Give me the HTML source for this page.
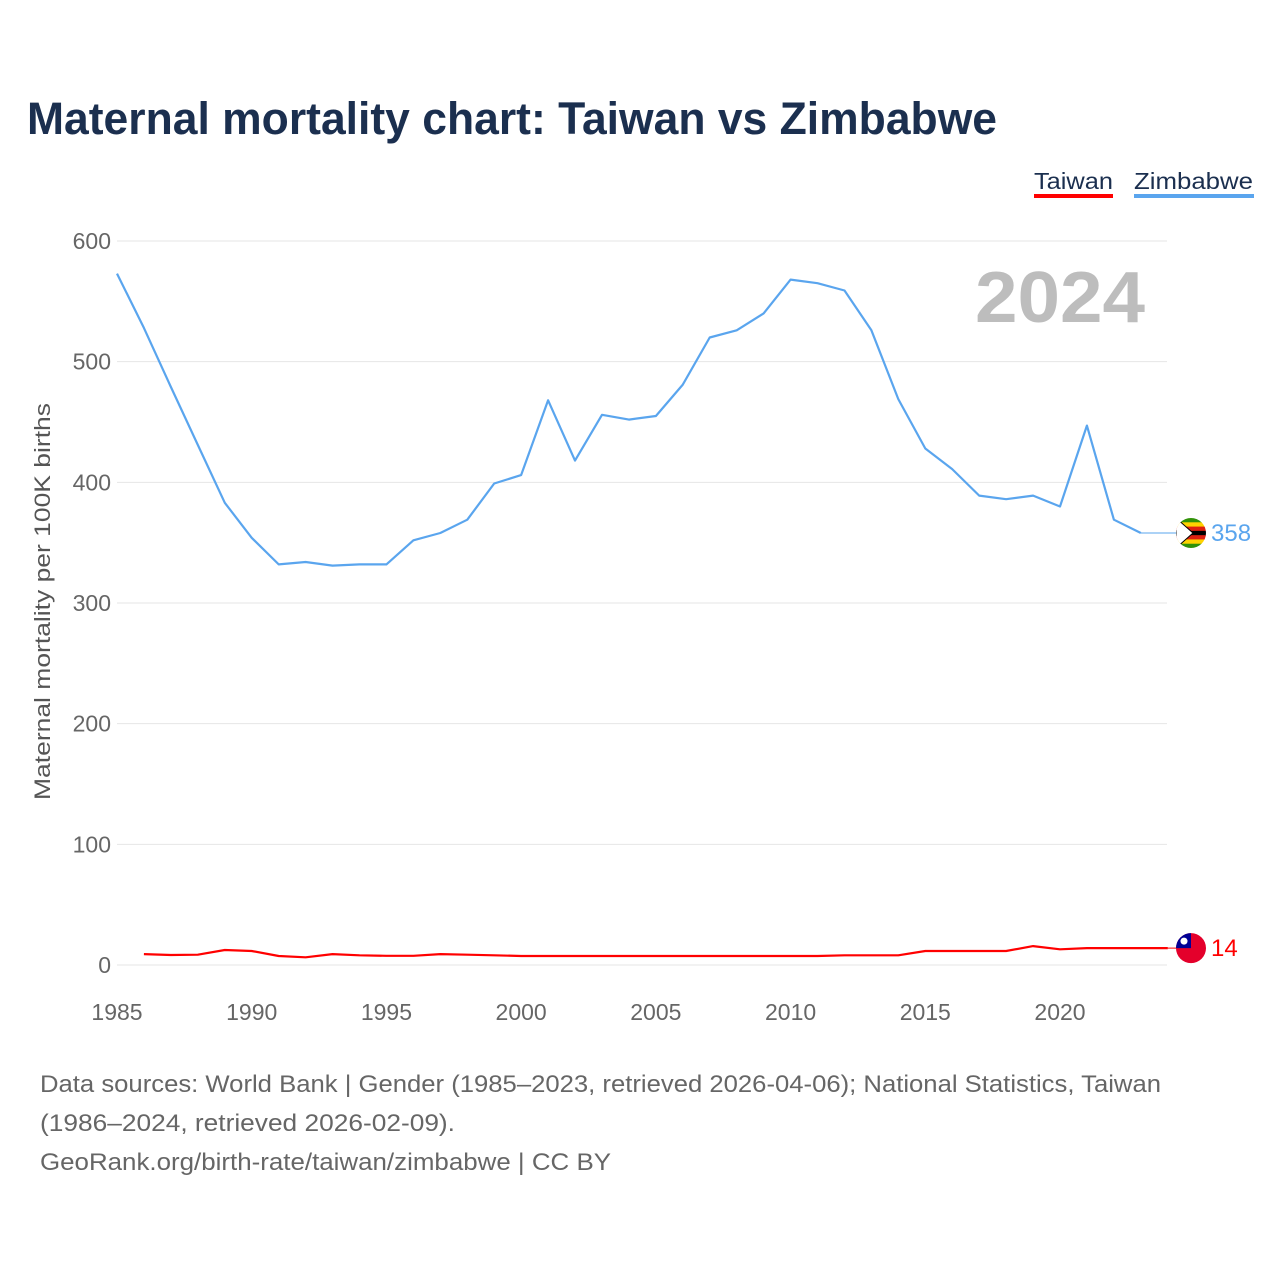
<!DOCTYPE html>
<html><head><meta charset="utf-8"><style>
body{margin:0;background:#fff;font-family:"Liberation Sans",sans-serif}
#wrap{position:relative;width:1280px;height:1280px}
</style></head><body>
<div id="wrap">
<svg id="chart" width="1280" height="1280">
<text x="27" y="134" font-size="45" font-weight="bold" fill="#1b2f4f" textLength="970" lengthAdjust="spacingAndGlyphs">Maternal mortality chart: Taiwan vs Zimbabwe</text>
<g><text x="1034" y="189" font-size="23" fill="#1b2f4f" textLength="79" lengthAdjust="spacingAndGlyphs">Taiwan</text><rect x="1034" y="194" width="79" height="4" fill="#ff0000"/></g>
<g><text x="1134" y="189" font-size="23" fill="#1b2f4f" textLength="119" lengthAdjust="spacingAndGlyphs">Zimbabwe</text><rect x="1134" y="194" width="120" height="4" fill="#5aa5ee"/></g>
<text x="975" y="322" font-size="72" font-weight="bold" fill="#bdbdbd" textLength="170" lengthAdjust="spacingAndGlyphs">2024</text>
<text transform="translate(50,800) rotate(-90)" font-size="22" fill="#555" textLength="397" lengthAdjust="spacingAndGlyphs">Maternal mortality per 100K births</text>
<g id="grid"></g><g id="series"></g>
<text x="40" y="1092" font-size="24" fill="#666" textLength="1121" lengthAdjust="spacingAndGlyphs">Data sources: World Bank | Gender (1985–2023, retrieved 2026-04-06); National Statistics, Taiwan</text>
<text x="40" y="1131" font-size="24" fill="#666" textLength="415" lengthAdjust="spacingAndGlyphs">(1986–2024, retrieved 2026-02-09).</text>
<text x="40" y="1170" font-size="24" fill="#666" textLength="571" lengthAdjust="spacingAndGlyphs">GeoRank.org/birth-rate/taiwan/zimbabwe | CC BY</text>
</svg></div>
<script>
const zwYears=[1985,1986,1987,1988,1989,1990,1991,1992,1993,1994,1995,1996,1997,1998,1999,2000,2001,2002,2003,2004,2005,2006,2007,2008,2009,2010,2011,2012,2013,2014,2015,2016,2017,2018,2019,2020,2021,2022,2023];
const zwValues=[573,528,479,431,383,354,332,334,331,332,332,352,358,369,399,406,468,418,456,452,455,481,520,526,540,568,565,559,526,469,428,411,389,386,389,380,447,369,358];
const twYears=[1986,1987,1988,1989,1990,1991,1992,1993,1994,1995,1996,1997,1998,1999,2000,2001,2002,2003,2004,2005,2006,2007,2008,2009,2010,2011,2012,2013,2014,2015,2016,2017,2018,2019,2020,2021,2022,2023,2024];
const twValues=[9,8.3,8.5,12.4,11.6,7.5,6.4,9,8,7.6,7.6,9,8.5,8,7.5,7.5,7.5,7.5,7.5,7.5,7.5,7.5,7.5,7.5,7.5,7.5,8,8,8,11.6,11.6,11.6,11.6,15.7,13,14,14,14,14];
const yTicks=[0,100,200,300,400,500,600];
const xTicks=[1985,1990,1995,2000,2005,2010,2015,2020];
const NS="http://www.w3.org/2000/svg";
const X=y=>117+(y-1985)*(1060-117)/35;
const Y=v=>965-v*(965-241)/600;
const grid=document.getElementById('grid'),ser=document.getElementById('series');
function mk(tag,at,parent){const e=document.createElementNS(NS,tag);for(const k in at)e.setAttribute(k,at[k]);parent.appendChild(e);return e;}
yTicks.forEach(t=>{
 const l=mk('line',{x1:117,x2:1167,y1:Y(t),y2:Y(t),stroke:'#e6e6e6','stroke-width':1},grid);
 
 
 const tx=mk('text',{x:111,y:Y(t)+8,'font-size':23,fill:'#666','text-anchor':'end'},grid);tx.textContent=t;
 
 
});
xTicks.forEach(t=>{
 const tx=mk('text',{x:X(t),y:1020,'font-size':23,fill:'#666','text-anchor':'middle'},grid);tx.textContent=t;
 
 
});
function line(ys,vs,col,name){
 const d=ys.map((y,i)=>(i?'L':'M')+X(y).toFixed(1)+' '+Y(vs[i]).toFixed(1)).join(' ');
 const p=mk('path',{d:d,fill:'none',stroke:col,'stroke-width':2.2,'stroke-linejoin':'round'},ser);
 
 
}
line(zwYears,zwValues,'#5aa5ee','zimbabwe-line');
line(twYears,twValues,'#ff0000','taiwan-line');
const zl=zwValues[zwValues.length-1], tl=twValues[twValues.length-1];
mk('line',{x1:X(zwYears[zwYears.length-1]),x2:1178,y1:Y(zl),y2:Y(zl),stroke:'#5aa5ee','stroke-width':1},ser);
mk('line',{x1:X(twYears[twYears.length-1]),x2:1178,y1:Y(tl),y2:Y(tl),stroke:'#ff0000','stroke-width':1},ser);
const zf=mk('g',{},ser);


const cy=Y(zl),cx=1191;
const cp=mk('clipPath',{id:'cz'},zf);
mk('circle',{cx:cx,cy:cy,r:15},cp);
const zg=mk('g',{'clip-path':'url(#cz)'},zf);
['#319208','#ffd200','#de2010','#000','#de2010','#ffd200','#319208'].forEach((c,i)=>mk('rect',{x:cx-15,y:cy-15+i*30/7,width:30,height:30/7+0.5,fill:c},zg));
mk('path',{d:`M${cx-15} ${cy-15} L${cx+2} ${cy} L${cx-15} ${cy+15}Z`,fill:'#fff',stroke:'#000','stroke-width':1},zg);
const zt=mk('text',{x:1211,y:cy+8,'font-size':24,fill:'#5aa5ee'},ser);zt.textContent=zl;


const tf=mk('g',{},ser);


const ty=Y(tl);
mk('circle',{cx:cx,cy:ty,r:15,fill:'#e4002b'},tf);
mk('path',{d:`M${cx-15} ${ty} A15 15 0 0 1 ${cx} ${ty-15} L${cx} ${ty} Z`,fill:'#000095'},tf);
mk('circle',{cx:cx-7,cy:ty-7,r:3.5,fill:'#fff'},tf);
const tt=mk('text',{x:1211,y:ty+8,'font-size':24,fill:'#ff0000'},ser);tt.textContent=Math.round(tl);


</script>
</body></html>
